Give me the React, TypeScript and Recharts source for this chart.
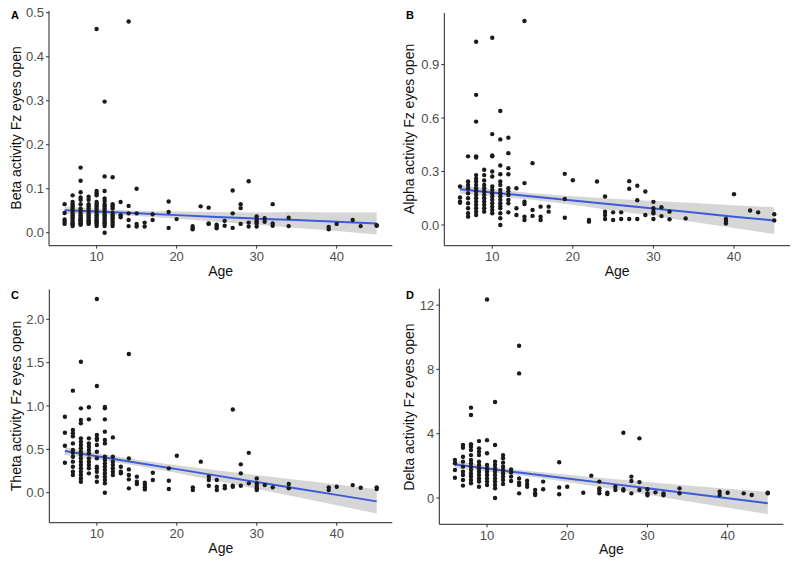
import { Area, ComposedChart, Line, Scatter, XAxis, YAxis } from "recharts";

// values read per age column, one list per panel
const betaByAge: [number, number[]][] = [
  [6, [0.065, 0.045, 0.03, 0.025, 0.02]],
  [7, [0.085, 0.07, 0.065, 0.06, 0.055, 0.05, 0.045, 0.04, 0.035, 0.03, 0.025, 0.02, 0.02, 0.015]],
  [8, [0.148, 0.118, 0.092, 0.08, 0.075, 0.065, 0.055, 0.05, 0.045, 0.04, 0.035, 0.03, 0.03, 0.028, 0.025, 0.022, 0.02, 0.018]],
  [9, [0.082, 0.075, 0.065, 0.06, 0.055, 0.05, 0.045, 0.04, 0.035, 0.03, 0.028, 0.025, 0.022, 0.02]],
  [10, [0.463, 0.095, 0.09, 0.085, 0.07, 0.065, 0.06, 0.055, 0.05, 0.045, 0.04, 0.035, 0.03, 0.028, 0.025, 0.022, 0.02, 0.015]],
  [11, [0.298, 0.128, 0.095, 0.078, 0.072, 0.065, 0.06, 0.055, 0.05, 0.045, 0.04, 0.035, 0.03, 0.025, 0.022, 0.02, 0.015, 0.0]],
  [12, [0.126, 0.065, 0.06, 0.055, 0.045, 0.04, 0.035, 0.03, 0.025, 0.02, 0.015]],
  [13, [0.07, 0.04, 0.035]],
  [14, [0.48, 0.061, 0.044, 0.029, 0.015]],
  [15, [0.1, 0.044, 0.02, 0.014]],
  [16, [0.023, 0.014]],
  [17, [0.042, 0.029]],
  [19, [0.071, 0.047, 0.011]],
  [20, [0.031]],
  [22, [0.015, 0.011, 0.008]],
  [23, [0.06]],
  [24, [0.057, 0.021, 0.02]],
  [25, [0.018, 0.014, 0.01]],
  [26, [0.027, 0.016]],
  [27, [0.096, 0.044, 0.011]],
  [28, [0.065, 0.056, 0.02]],
  [29, [0.117, 0.023, 0.014]],
  [30, [0.037, 0.029, 0.025, 0.021, 0.014]],
  [31, [0.033, 0.025]],
  [32, [0.065, 0.021, 0.016]],
  [34, [0.034, 0.015]],
  [39, [0.013, 0.008]],
  [40, [0.02]],
  [42, [0.029]],
  [43, [0.015]],
  [45, [0.017, 0.016]],
];

const alphaByAge: [number, number[]][] = [
  [6, [0.216, 0.154, 0.131, 0.125]],
  [7, [0.385, 0.244, 0.225, 0.206, 0.178, 0.15, 0.122, 0.094, 0.066, 0.047]],
  [8, [1.028, 0.73, 0.58, 0.385, 0.379, 0.28, 0.26, 0.244, 0.225, 0.206, 0.188, 0.169, 0.15, 0.131, 0.113, 0.094, 0.075, 0.056]],
  [9, [0.31, 0.28, 0.25, 0.225, 0.206, 0.188, 0.169, 0.15, 0.131, 0.113, 0.094, 0.075]],
  [10, [1.05, 0.51, 0.39, 0.385, 0.3, 0.272, 0.216, 0.197, 0.178, 0.16, 0.141, 0.122, 0.103, 0.084, 0.066]],
  [11, [0.64, 0.48, 0.334, 0.285, 0.244, 0.225, 0.197, 0.178, 0.16, 0.141, 0.122, 0.107, 0.094, 0.066, 0.038, 0.0]],
  [12, [0.49, 0.403, 0.319, 0.285, 0.206, 0.188, 0.169, 0.141, 0.122, 0.071]],
  [13, [0.206, 0.094, 0.056]],
  [14, [1.144, 0.235, 0.131, 0.118, 0.047, 0.028]],
  [15, [0.347, 0.084, 0.051]],
  [16, [0.103, 0.047, 0.028]],
  [17, [0.103, 0.075]],
  [19, [0.287, 0.146, 0.041]],
  [20, [0.251]],
  [22, [0.028, 0.019]],
  [23, [0.244]],
  [24, [0.16, 0.075, 0.056, 0.034]],
  [25, [0.071, 0.028]],
  [26, [0.071, 0.034]],
  [27, [0.246, 0.203, 0.034]],
  [28, [0.22, 0.139, 0.034]],
  [29, [0.188, 0.056]],
  [30, [0.13, 0.094, 0.075, 0.066, 0.034]],
  [31, [0.1, 0.05]],
  [32, [0.075, 0.032]],
  [34, [0.037]],
  [39, [0.034, 0.022, 0.009]],
  [40, [0.173]],
  [42, [0.081]],
  [43, [0.071]],
  [45, [0.06, 0.026]],
];

const thetaByAge: [number, number[]][] = [
  [6, [0.877, 0.692, 0.542, 0.346]],
  [7, [1.177, 0.723, 0.685, 0.65, 0.569, 0.492, 0.46, 0.415, 0.358, 0.3, 0.242, 0.204]],
  [8, [1.51, 0.973, 0.838, 0.8, 0.627, 0.588, 0.55, 0.512, 0.473, 0.435, 0.396, 0.358, 0.319, 0.281, 0.242, 0.204, 0.165, 0.127]],
  [9, [0.985, 0.846, 0.627, 0.569, 0.531, 0.492, 0.454, 0.396, 0.358, 0.319, 0.281, 0.223]],
  [10, [2.235, 1.23, 0.665, 0.627, 0.608, 0.55, 0.473, 0.396, 0.3, 0.281, 0.242, 0.185, 0.127]],
  [11, [0.99, 0.973, 0.846, 0.704, 0.608, 0.569, 0.415, 0.377, 0.338, 0.3, 0.262, 0.223, 0.185, 0.146, 0.108, 0.0]],
  [12, [0.638, 0.415, 0.358, 0.319, 0.281, 0.242, 0.204]],
  [13, [0.3, 0.242, 0.223]],
  [14, [1.6, 0.396, 0.269, 0.204, 0.154, 0.05]],
  [15, [0.185, 0.127, 0.1]],
  [16, [0.115, 0.088, 0.062, 0.038]],
  [17, [0.231, 0.146]],
  [19, [0.281, 0.138, 0.042]],
  [20, [0.427]],
  [22, [0.062, 0.031]],
  [23, [0.358]],
  [24, [0.185, 0.146, 0.081]],
  [25, [0.146, 0.069, 0.031]],
  [26, [0.077, 0.05]],
  [27, [0.96, 0.081, 0.069]],
  [28, [0.327, 0.223, 0.081]],
  [29, [0.46, 0.108]],
  [30, [0.165, 0.108, 0.077, 0.05, 0.031]],
  [31, [0.088]],
  [32, [0.062]],
  [34, [0.1, 0.05]],
  [39, [0.062, 0.031]],
  [40, [0.069]],
  [42, [0.088]],
  [43, [0.058]],
  [45, [0.062, 0.042]],
];

const deltaByAge: [number, number[]][] = [
  [6, [2.36, 2.16, 1.74, 1.26]],
  [7, [3.3, 3.13, 2.57, 2.26, 1.95, 1.64, 1.43, 1.12, 0.77]],
  [8, [5.62, 5.16, 3.34, 3.19, 2.98, 2.67, 2.36, 2.16, 1.95, 1.74, 1.53, 1.33, 1.12, 0.91]],
  [9, [3.54, 3.09, 2.88, 2.67, 2.26, 2.05, 1.84, 1.64, 1.43, 1.22, 1.02, 0.7]],
  [10, [12.35, 3.6, 2.78, 2.05, 1.84, 1.64, 1.43, 1.22, 1.02, 0.81]],
  [11, [5.97, 3.3, 2.26, 2.05, 1.84, 1.64, 1.43, 1.22, 1.02, 0.81, 0.6, 0.0]],
  [12, [2.67, 2.47, 2.2, 1.95, 1.74, 1.53, 1.33, 1.12, 0.87]],
  [13, [1.78, 1.58, 1.33, 1.06]],
  [14, [9.47, 7.75, 1.22, 0.95, 0.81, 0.29]],
  [15, [1.08, 0.87, 0.7]],
  [16, [0.5, 0.29, 0.19]],
  [17, [1.02, 0.54]],
  [19, [2.22, 0.66, 0.23]],
  [20, [0.7]],
  [22, [0.33]],
  [23, [1.39]],
  [24, [1.02, 0.6, 0.46, 0.29]],
  [25, [0.33, 0.25]],
  [26, [0.7, 0.5]],
  [27, [4.06, 0.54, 0.46]],
  [28, [1.33, 1.06, 0.29]],
  [29, [3.71, 0.99, 0.5]],
  [30, [0.54, 0.29, 0.17]],
  [31, [0.35]],
  [32, [0.29, 0.17]],
  [34, [0.6, 0.29]],
  [39, [0.39, 0.19]],
  [40, [0.33]],
  [42, [0.29]],
  [43, [0.19]],
  [45, [0.33, 0.29]],
];

// fitted line and 95% band, read at these ages
const fitAges = [6, 10, 15, 20, 25, 30, 35, 40, 45];

const betaFit = [0.051, 0.048, 0.044, 0.04, 0.036, 0.032, 0.029, 0.025, 0.021];
const betaLow = [0.043, 0.0415, 0.038, 0.032, 0.025, 0.018, 0.011, 0.004, -0.004];
const betaHigh = [0.059, 0.0545, 0.05, 0.048, 0.047, 0.046, 0.047, 0.046, 0.046];

const alphaFit = [0.2, 0.182, 0.16, 0.137, 0.115, 0.092, 0.07, 0.047, 0.025];
const alphaLow = [0.176, 0.163, 0.142, 0.113, 0.082, 0.05, 0.017, -0.017, -0.05];
const alphaHigh = [0.224, 0.201, 0.178, 0.161, 0.148, 0.134, 0.123, 0.111, 0.1];

const thetaFit = [0.48, 0.421, 0.346, 0.272, 0.197, 0.123, 0.049, -0.025, -0.1];
const thetaLow = [0.435, 0.385, 0.312, 0.227, 0.136, 0.044, -0.05, -0.144, -0.24];
const thetaHigh = [0.525, 0.457, 0.38, 0.317, 0.258, 0.202, 0.148, 0.094, 0.04];

const deltaFit = [2.08, 1.83, 1.52, 1.22, 0.91, 0.6, 0.29, -0.01, -0.32];
const deltaLow = [1.86, 1.65, 1.35, 1.0, 0.61, 0.21, -0.2, -0.6, -1.0];
const deltaHigh = [2.3, 2.01, 1.69, 1.44, 1.21, 0.99, 0.78, 0.58, 0.38];

const ageTicks = [10, 20, 30, 40];
const betaTicks = [0, 0.1, 0.2, 0.3, 0.4, 0.5];
const alphaTicks = [0, 0.3, 0.6, 0.9];
const thetaTicks = [0, 0.5, 1, 1.5, 2];
const deltaTicks = [0, 4, 8, 12];

const FONT = '"Liberation Sans", Arial, sans-serif';
const TICK = { fill: "#4d4d4d", fontSize: 13, fontFamily: FONT };

const toPoints = (cols: [number, number[]][]) =>
  cols.flatMap(([age, vals]) => vals.map((v) => ({ age, v })));

const toFit = (fit: number[], low: number[], high: number[]) =>
  fitAges.map((age, i) => ({ age, fit: fit[i], band: [low[i], high[i]] }));

const Dot = (p: any) => <circle cx={p.cx} cy={p.cy} r={2.2} fill="#1a1a1a" />;

type PanelProps = {
  x: number;
  y: number;
  width: number;
  height: number;
  margin: { top: number; right: number; bottom: number; left: number };
  yAxisWidth: number;
  letter: string;
  title: string;
  titleX: number;
  cols: [number, number[]][];
  fit: number[];
  low: number[];
  high: number[];
  domain: [number, number];
  ticks: number[];
  digits: number;
};

function Panel(p: PanelProps) {
  const xh = 34;
  const plotLeft = p.margin.left + p.yAxisWidth;
  const plotRight = p.width - p.margin.right;
  const plotTop = p.margin.top;
  const plotBottom = p.height - p.margin.bottom - xh;
  return (
    <div style={{ position: "absolute", left: p.x, top: p.y, width: p.width, height: p.height }}>
      <ComposedChart
        width={p.width}
        height={p.height}
        margin={p.margin}
        data={toFit(p.fit, p.low, p.high)}
      >
        <XAxis
          type="number"
          dataKey="age"
          domain={[4.05, 46.95]}
          ticks={ageTicks}
          allowDataOverflow
          height={xh}
          tick={TICK}
          tickSize={3}
          tickMargin={3}
          stroke="#333"
          axisLine={{ stroke: "#222" }}
        />
        <YAxis
          type="number"
          domain={p.domain}
          ticks={p.ticks}
          allowDataOverflow
          width={p.yAxisWidth}
          tick={TICK}
          tickSize={3}
          tickMargin={2}
          tickFormatter={(v: number) => v.toFixed(p.digits)}
          stroke="#333"
          axisLine={{ stroke: "#222" }}
        />
        <Scatter data={toPoints(p.cols)} dataKey="v" shape={Dot} isAnimationActive={false} />
        <Area
          dataKey="band"
          type="linear"
          stroke="none"
          fill="#999999"
          fillOpacity={0.4}
          isAnimationActive={false}
        />
        <Line
          dataKey="fit"
          type="linear"
          stroke="#3b5bdb"
          strokeWidth={2}
          dot={false}
          isAnimationActive={false}
        />
      </ComposedChart>
      <div
        style={{
          position: "absolute",
          left: 11,
          top: 10,
          fontFamily: FONT,
          fontWeight: 700,
          fontSize: 11,
          lineHeight: 1,
        }}
      >
        {p.letter}
      </div>
      <div
        style={{
          position: "absolute",
          left: p.titleX,
          top: (plotTop + plotBottom) / 2,
          transform: "translate(-50%, -50%) rotate(-90deg)",
          whiteSpace: "nowrap",
          fontFamily: FONT,
          fontSize: 14,
          lineHeight: 1,
          color: "#111",
        }}
      >
        {p.title}
      </div>
      <div
        style={{
          position: "absolute",
          left: (plotLeft + plotRight) / 2,
          top: plotBottom + 18,
          transform: "translateX(-50%)",
          fontFamily: FONT,
          fontSize: 14,
          lineHeight: 1,
          color: "#111",
        }}
      >
        Age
      </div>
    </div>
  );
}

export default function App() {
  return (
    <div style={{ position: "absolute", left: 0, top: 0, width: 795, height: 562, background: "#fff" }}>
      <Panel
        x={0}
        y={0}
        width={397}
        height={280}
        margin={{ top: 11, right: 4.7, bottom: 0.3, left: 0 }}
        yAxisWidth={49}
        letter="A"
        title="Beta activity Fz eyes open"
        titleX={16}
        cols={betaByAge}
        fit={betaFit}
        low={betaLow}
        high={betaHigh}
        domain={[-0.0295, 0.504]}
        ticks={betaTicks}
        digits={1}
      />
      <Panel
        x={395}
        y={0}
        width={400}
        height={280}
        margin={{ top: 13, right: 5, bottom: 0.3, left: 0 }}
        yAxisWidth={49.3}
        letter="B"
        title="Alpha activity Fz eyes open"
        titleX={14}
        cols={alphaByAge}
        fit={alphaFit}
        low={alphaLow}
        high={alphaHigh}
        domain={[-0.116, 1.189]}
        ticks={alphaTicks}
        digits={1}
      />
      <Panel
        x={0}
        y={280}
        width={397}
        height={282}
        margin={{ top: 9.5, right: 4.7, bottom: 5.3, left: 0 }}
        yAxisWidth={49.3}
        letter="C"
        title="Theta activity Fz eyes open"
        titleX={16}
        cols={thetaByAge}
        fit={thetaFit}
        low={thetaLow}
        high={thetaHigh}
        domain={[-0.346, 2.344]}
        ticks={thetaTicks}
        digits={1}
      />
      <Panel
        x={395}
        y={280}
        width={400}
        height={282}
        margin={{ top: 8.7, right: 11.6, bottom: 3.7, left: 0 }}
        yAxisWidth={44.3}
        letter="D"
        title="Delta activity Fz eyes open"
        titleX={14}
        cols={deltaByAge}
        fit={deltaFit}
        low={deltaLow}
        high={deltaHigh}
        domain={[-1.636, 13.02]}
        ticks={deltaTicks}
        digits={0}
      />
    </div>
  );
}
